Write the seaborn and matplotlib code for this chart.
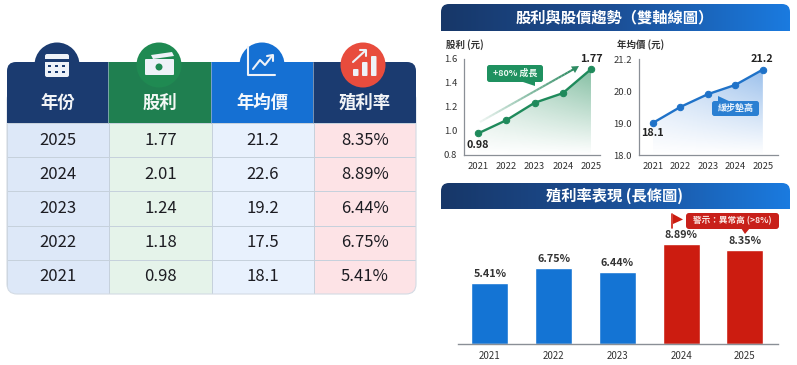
import matplotlib
matplotlib.use('Agg')
import matplotlib.pyplot as plt
from matplotlib.colors import ListedColormap, LinearSegmentedColormap
from matplotlib.patches import FancyBboxPatch, Rectangle, Circle, Polygon
import numpy as np
import pandas as pd
import seaborn as sns

# data
table_years = ['2025', '2024', '2023', '2022', '2021']
table_div = ['1.77', '2.01', '1.24', '1.18', '0.98']
table_price = ['21.2', '22.6', '19.2', '17.5', '18.1']
table_yield = ['8.35%', '8.89%', '6.44%', '6.75%', '5.41%']
headers = ['年份', '股利', '年均價', '殖利率']

years = [2021, 2022, 2023, 2024, 2025]
# marker heights as drawn in the picture (the labels say otherwise)
div_line = [0.98, 1.09, 1.235, 1.315, 1.515]
price_line = [19.0, 19.5, 19.9, 20.19, 20.67]
price_ticks = [18, 19, 20, 21]
price_ticklabels = ['18.0', '19.0', '20.0', '21.2']
div_ticks = [0.8, 1.0, 1.2, 1.4, 1.6]

yield_vals = [5.41, 6.75, 6.44, 8.89, 8.35]
yield_labels = ['5.41%', '6.75%', '6.44%', '8.89%', '8.35%']

W, H = 797, 365
NAVY = '#1b3b70'
GREEN = '#1f7f50'
BLUE = '#1570d3'
RED = '#cc1c10'

sns.set_theme(style='white')
plt.rcParams['font.family'] = ['Noto Sans CJK TC', 'DejaVu Sans']

fig = plt.figure(figsize=(W / 100, H / 100), dpi=100, facecolor='white')


def px_axes(x0, y0, x1, y1, **kw):
    return fig.add_axes([x0 / W, 1 - y1 / H, (x1 - x0) / W, (y1 - y0) / H], **kw)


# overlay in pixel coordinates, for banners, icons and callouts
ov = px_axes(0, 0, W, H, zorder=10)
ov.set_xlim(0, W)
ov.set_ylim(H, 0)
ov.axis('off')
ov.patch.set_alpha(0)


def rbox(x0, y0, x1, y1, r, **kw):
    p = FancyBboxPatch((x0 + r, y0 + r), x1 - x0 - 2 * r, y1 - y0 - 2 * r,
                       boxstyle=f'round,pad={r},rounding_size={r}', **kw)
    ov.add_patch(p)
    return p


# table body
body = np.tile(np.arange(4), (5, 1))
labels = np.array([table_years, table_div, table_price, table_yield]).T
cmap = ListedColormap(['#dde8f8', '#e5f3ea', '#e8f1fd', '#fde3e6'])
tax = px_axes(7, 123, 416, 294)
sns.heatmap(body, annot=labels, fmt='', cmap=cmap, cbar=False, ax=tax,
            linewidths=0.4, linecolor='#c6d1dc', xticklabels=False, yticklabels=False,
            annot_kws={'fontsize': 12, 'color': '#1c1c22', 'fontweight': 'medium'})
outline = rbox(7, 90, 416, 294, 10, fc='none', ec='#d3dbe4', lw=0.8)
tax.collections[0].set_clip_path(outline)

# table header
head_clip = rbox(7, 62, 416, 160, 9, fc='none', ec='none')
col_x = [7, 108.5, 211, 313, 416]
head_cols = [NAVY, GREEN, BLUE, NAVY]
circle_cols = [NAVY, '#1f8a52', BLUE, '#e84c3d']
circle_x = [57, 159, 262, 363]
for i in range(4):
    r = Rectangle((col_x[i], 62), col_x[i + 1] - col_x[i], 61, fc=head_cols[i], ec='none')
    ov.add_patch(r)
    r.set_clip_path(head_clip)
    ov.add_patch(Circle((circle_x[i], 65), 22.5, fc=circle_cols[i], ec='none', zorder=3))
    ov.text((col_x[i] + col_x[i + 1]) / 2, 103, headers[i], color='white', fontsize=12.5,
            fontweight='bold', ha='center', va='center', alpha=0.95)
for x in col_x[1:-1]:
    ov.plot([x, x], [62, 123], color='#9fb4cc', lw=0.5)

ICON = '#eef2f8'
# calendar
rbox(45, 54, 69, 77, 2, fc=ICON, ec='none', zorder=4)
ov.add_patch(Rectangle((45, 59), 24, 3, fc=NAVY, ec='none', zorder=5))
for gx in (50, 57, 64):
    for gy in (66, 72):
        ov.add_patch(Rectangle((gx - 1.5, gy - 1.2), 3, 2.4, fc=NAVY, ec='none', zorder=5))
# money
ov.add_patch(Polygon([[151, 55], [172, 52], [174, 56], [153, 59]], fc=ICON, ec='none', zorder=4))
rbox(145, 59, 174, 75, 1, fc=ICON, ec='none', zorder=4)
ov.add_patch(Circle((159, 67), 3.5, fc='#1f8a52', ec='none', zorder=5))
# line chart icon
ov.plot([248, 248, 275], [47, 75, 75], color=ICON, lw=1.5, zorder=4)
ov.plot([253, 260, 265, 272], [69, 60, 65, 56], color=ICON, lw=1.5, zorder=4)
ov.plot([267, 273, 273], [56, 55, 61], color=ICON, lw=1.5, zorder=4)
# bars icon
for bx, top in zip((353, 362, 371), (69, 62, 56)):
    rbox(bx, top, bx + 5.5, 76, 1, fc=ICON, ec='none', zorder=4)
ov.plot([353, 365], [62, 51], color=ICON, lw=1.5, zorder=4)
ov.plot([360, 366, 366], [50, 50, 56], color=ICON, lw=1.5, zorder=4)

# banners
bar_cmap = LinearSegmentedColormap.from_list('ban', ['#173768', '#1c4f96', '#1a7be0'])
grad = np.linspace(0, 1, 256).reshape(1, -1)
for y0, y1, title, tx in [(4, 31, '股利與股價趨勢（雙軸線圖）', 615),
                          (183, 209, '殖利率表現 (長條圖)', 615)]:
    clip = rbox(441, y0, 790, y1 + 10, 8, fc='none', ec='none')
    im = ov.imshow(grad, cmap=bar_cmap, extent=(441, 790, y1, y0), aspect='auto', zorder=1)
    im.set_clip_path(clip)
    ov.text(tx, (y0 + y1) / 2 - 0.5, title, color='white', fontsize=11, fontweight='bold',
            ha='center', va='center', zorder=2)
ov.set_xlim(0, W)
ov.set_ylim(H, 0)


def line_panel(ax, vals, color, rgb, strength, yticks, yticklabels, ylim, xlim):
    sns.lineplot(x=years, y=vals, ax=ax, color=color, lw=1.7, marker='o', markersize=4.6,
                 markeredgecolor=color, zorder=5)
    ax.set_xlim(*xlim)
    ax.set_ylim(*ylim)
    fill = ax.fill_between(years, vals, ylim[0], color='none')
    v, h = np.mgrid[1:0:100j, 0:1:100j]
    rgba = np.zeros((100, 100, 4))
    rgba[..., :3] = rgb
    rgba[..., 3] = strength * v * (0.45 + 0.55 * h)
    img = ax.imshow(rgba, extent=(years[0], years[-1], ylim[0], max(vals)), aspect='auto', zorder=2)
    img.set_clip_path(fill.get_paths()[0], ax.transData)
    ax.set_xlim(*xlim)
    ax.set_ylim(*ylim)
    ax.set_xticks(years)
    ax.set_yticks(yticks)
    ax.set_yticklabels(yticklabels)
    ax.tick_params(axis='both', labelsize=6.8, length=0, colors='#333333', pad=5)
    ax.patch.set_alpha(0)
    sns.despine(ax=ax)
    for s in ('left', 'bottom'):
        ax.spines[s].set_color('#8a8f96')
        ax.spines[s].set_linewidth(0.9)


# dividend lines
ax1 = px_axes(464, 59, 600, 155)
line_panel(ax1, div_line, '#1f8a5b', (0.12, 0.54, 0.34), 0.55, div_ticks,
           [f'{t:.1f}' for t in div_ticks], (0.8, 1.6), (2020.5, 2025.32))
ax1.annotate(table_div[-1], (years[0], div_line[0]), xytext=(0, -8), textcoords='offset points',
             ha='center', va='center', fontsize=7.8, fontweight='bold', color='#222222')
ax1.annotate(table_div[0], (years[-1], div_line[-1]), xytext=(0, 7.5), textcoords='offset points',
             ha='center', va='center', fontsize=7.8, fontweight='bold', color='#222222')

# price lines
ax2 = px_axes(639, 59, 778, 155)
line_panel(ax2, price_line, '#1f72c8', (0.2, 0.5, 0.85), 0.5, price_ticks, price_ticklabels,
           (18, 21), (2020.5, 2025.55))
ax2.annotate(table_price[-1], (years[0], price_line[0]), xytext=(0, -7.5), textcoords='offset points',
             ha='center', va='center', fontsize=7.8, fontweight='bold', color='#222222')
ax2.annotate(table_price[0], (years[-1], price_line[-1]), xytext=(-1, 7.5), textcoords='offset points',
             ha='center', va='center', fontsize=7.8, fontweight='bold', color='#222222')

ov.text(446, 45, '股利 (元)', fontsize=6.8, fontweight='bold', color='#333333', va='center')
ov.text(617, 45, '年均價 (元)', fontsize=6.8, fontweight='bold', color='#333333', va='center')

# growth arrow, fading towards its tail
n = 30
for k in range(n):
    a, b = k / n, (k + 1) / n
    ov.plot([480 + 94 * a, 480 + 94 * b], [122 - 53 * a, 122 - 53 * b], color='#2e8b62',
            lw=1.5, alpha=0.05 + 0.95 * b, solid_capstyle='butt', zorder=3)
ov.add_patch(Polygon([[579, 66], [571, 66.5], [575, 73]], fc='#2e8b62', ec='none', zorder=3))
rbox(487, 65, 543, 82, 2.5, fc='#1f9160', ec='none', zorder=4)
ov.add_patch(Polygon([[520, 81], [535, 81], [535, 86]], fc='#1f9160', ec='none', zorder=4))
ov.text(515, 73.5, '+80% 成長', color='#e6f6ee', fontsize=6.5, fontweight='bold',
        ha='center', va='center', zorder=5)

rbox(712, 101, 759, 116, 2.5, fc='#2a7fd2', ec='none', zorder=4)
ov.add_patch(Polygon([[718, 96], [718, 102], [731, 102]], fc='#2a7fd2', ec='none', zorder=4))
ov.text(735.5, 108.5, '緩步墊高', color='#e8f2fc', fontsize=6.5, fontweight='bold',
        ha='center', va='center', zorder=5)

# yield bars
ax3 = px_axes(458, 215, 778, 344)
df = pd.DataFrame({'year': years, 'yield': yield_vals})
df['high'] = df['yield'] > 8
sns.barplot(data=df, x='year', y='yield', hue='high', palette={False: '#1474d4', True: RED},
            dodge=False, width=0.58, legend=False, ax=ax3, saturation=1)
ax3.set_xlim(-0.5, 4.52)
ax3.set_ylim(0, 129 / 11.25)
ax3.set_xlabel('')
ax3.set_ylabel('')
ax3.set_yticks([])
ax3.tick_params(axis='x', labelsize=7, length=0, pad=5, labelcolor='#333333')
for lab in ax3.get_xticklabels():
    lab.set_fontweight('medium')
sns.despine(ax=ax3, left=True)
ax3.spines['bottom'].set_color('#8a8f96')
ax3.spines['bottom'].set_linewidth(1.0)
ax3.patch.set_alpha(0)
for i, (v, t) in enumerate(zip(yield_vals, yield_labels)):
    ax3.annotate(t, (i, v), xytext=(0, 6.5), textcoords='offset points', ha='center', va='center',
                 fontsize=7.8, fontweight='bold', color='#333333')

# warning flag and callout
ov.plot([672.5, 672.5], [214, 228], color=RED, lw=1.2, zorder=5)
ov.add_patch(Polygon([[673, 214], [683, 219.5], [673, 224]], fc=RED, ec='none', zorder=5))
rbox(686, 213, 779, 229, 3, fc='#c8201a', ec='none', zorder=5)
ov.add_patch(Polygon([[741, 228], [750, 228], [745, 234]], fc='#c8201a', ec='none', zorder=5))
ov.text(732.5, 221, '警示：異常高 (>8%)', color='#fbe6e2', fontsize=6.2, fontweight='bold',
        ha='center', va='center', zorder=6)

fig.savefig('out.png', dpi=100)
